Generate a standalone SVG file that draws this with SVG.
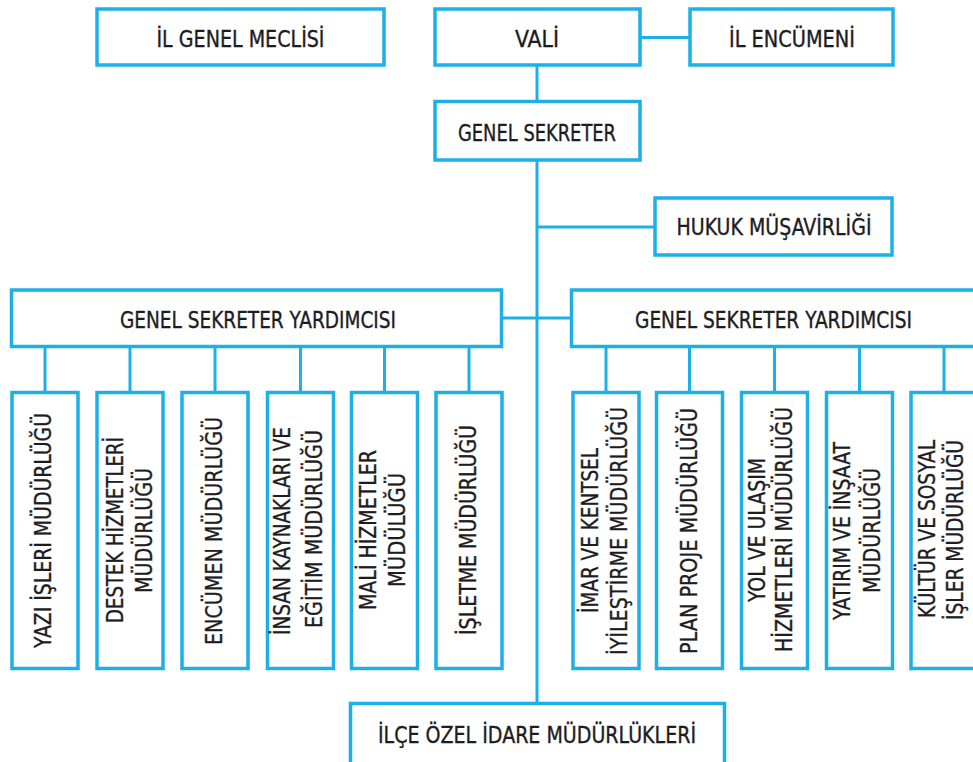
<svg xmlns="http://www.w3.org/2000/svg" width="973" height="762" viewBox="0 0 973 762">
<style>
.box{fill:#fff;stroke:#1cb0e6;stroke-width:3.5}
.ln{fill:none;stroke:#1cb0e6;stroke-width:3}
text{font-family:"DejaVu Sans Condensed","DejaVu Sans","Liberation Sans",sans-serif;font-stretch:condensed;font-size:23px;fill:#1d1d1f;stroke:#1d1d1f;stroke-width:0.35;text-anchor:middle}
</style>
<rect width="973" height="762" fill="#fff"/>
<g id="connectors">
<line class="ln" x1="640" y1="37.5" x2="690" y2="37.5"/>
<line class="ln" x1="537" y1="65" x2="537" y2="101.5"/>
<line class="ln" x1="537" y1="160" x2="537" y2="703.5"/>
<line class="ln" x1="537" y1="227" x2="655" y2="227"/>
<line class="ln" x1="501.5" y1="318" x2="571.5" y2="318"/>
<line class="ln" x1="45" y1="346.5" x2="45" y2="392.5"/>
<line class="ln" x1="130" y1="346.5" x2="130" y2="392.5"/>
<line class="ln" x1="215" y1="346.5" x2="215" y2="392.5"/>
<line class="ln" x1="300.5" y1="346.5" x2="300.5" y2="392.5"/>
<line class="ln" x1="384.5" y1="346.5" x2="384.5" y2="392.5"/>
<line class="ln" x1="469" y1="346.5" x2="469" y2="392.5"/>
<line class="ln" x1="606" y1="346.5" x2="606" y2="392.5"/>
<line class="ln" x1="689.5" y1="346.5" x2="689.5" y2="392.5"/>
<line class="ln" x1="774.5" y1="346.5" x2="774.5" y2="392.5"/>
<line class="ln" x1="859.5" y1="346.5" x2="859.5" y2="392.5"/>
<line class="ln" x1="944" y1="346.5" x2="944" y2="392.5"/>
</g>
<g id="il-genel-meclisi"><rect class="box" x="97" y="9" width="287" height="56"/><text x="240.5" y="46.5" textLength="168" lengthAdjust="spacingAndGlyphs">İL GENEL MECLİSİ</text></g>
<g id="vali"><rect class="box" x="435" y="9" width="205" height="56"/><text x="537" y="46.5" textLength="44" lengthAdjust="spacingAndGlyphs">VALİ</text></g>
<g id="il-encumeni"><rect class="box" x="690" y="9" width="203" height="56"/><text x="792" y="46.5" textLength="126" lengthAdjust="spacingAndGlyphs">İL ENCÜMENİ</text></g>
<g id="genel-sekreter"><rect class="box" x="435" y="101.5" width="205" height="58.5"/><text x="537" y="141" textLength="158" lengthAdjust="spacingAndGlyphs">GENEL SEKRETER</text></g>
<g id="hukuk"><rect class="box" x="655" y="198" width="237" height="57"/><text x="774" y="235" textLength="195" lengthAdjust="spacingAndGlyphs">HUKUK MÜŞAVİRLİĞİ</text></g>
<g id="gsy-left"><rect class="box" x="11.5" y="290" width="490" height="56.5"/><text x="258" y="328" textLength="276" lengthAdjust="spacingAndGlyphs">GENEL SEKRETER YARDIMCISI</text></g>
<g id="gsy-right"><rect class="box" x="571.5" y="290" width="405" height="56.5"/><text x="773.5" y="328" textLength="277" lengthAdjust="spacingAndGlyphs">GENEL SEKRETER YARDIMCISI</text></g>

<g id="yazi-isleri"><rect class="box" x="12" y="392.5" width="66" height="276"/><text transform="translate(51 530.5) rotate(-90)" textLength="235" lengthAdjust="spacingAndGlyphs">YAZI İŞLERİ MÜDÜRLÜĞÜ</text></g>
<g id="destek"><rect class="box" x="97" y="392.5" width="66" height="276"/><text transform="translate(123 530) rotate(-90)" textLength="186" lengthAdjust="spacingAndGlyphs">DESTEK HİZMETLERİ</text><text transform="translate(152 530.5) rotate(-90)" textLength="125" lengthAdjust="spacingAndGlyphs">MÜDÜRLÜĞÜ</text></g>
<g id="encumen"><rect class="box" x="182" y="392.5" width="66" height="276"/><text transform="translate(222 531) rotate(-90)" textLength="228" lengthAdjust="spacingAndGlyphs">ENCÜMEN MÜDÜRLÜĞÜ</text></g>
<g id="insan-kaynaklari"><rect class="box" x="267.5" y="392.5" width="66" height="276"/><text transform="translate(290 531) rotate(-90)" textLength="208" lengthAdjust="spacingAndGlyphs">İNSAN KAYNAKLARI VE</text><text transform="translate(322 529) rotate(-90)" textLength="198" lengthAdjust="spacingAndGlyphs">EĞİTİM MÜDÜRLÜĞÜ</text></g>
<g id="mali-hizmetler"><rect class="box" x="351.5" y="392.5" width="66" height="276"/><text transform="translate(376 530) rotate(-90)" textLength="160" lengthAdjust="spacingAndGlyphs">MALİ HİZMETLER</text><text transform="translate(405 530) rotate(-90)" textLength="114" lengthAdjust="spacingAndGlyphs">MÜDÜLÜĞÜ</text></g>
<g id="isletme"><rect class="box" x="436" y="392.5" width="66" height="276"/><text transform="translate(476 530) rotate(-90)" textLength="210" lengthAdjust="spacingAndGlyphs">İŞLETME MÜDÜRLÜĞÜ</text></g>

<g id="imar"><rect class="box" x="573" y="392.5" width="66" height="276"/><text transform="translate(598 530.5) rotate(-90)" textLength="165" lengthAdjust="spacingAndGlyphs">İMAR VE KENTSEL</text><text transform="translate(627 531) rotate(-90)" textLength="248" lengthAdjust="spacingAndGlyphs">İYİLEŞTİRME MÜDÜRLÜĞÜ</text></g>
<g id="plan-proje"><rect class="box" x="656.5" y="392.5" width="66" height="276"/><text transform="translate(697 531) rotate(-90)" textLength="246" lengthAdjust="spacingAndGlyphs">PLAN PROJE MÜDÜRLÜĞÜ</text></g>
<g id="yol-ulasim"><rect class="box" x="741.5" y="392.5" width="66" height="276"/><text transform="translate(765 530) rotate(-90)" textLength="144" lengthAdjust="spacingAndGlyphs">YOL VE ULAŞIM</text><text transform="translate(792 529.5) rotate(-90)" textLength="245" lengthAdjust="spacingAndGlyphs">HİZMETLERİ MÜDÜRLÜĞÜ</text></g>
<g id="yatirim"><rect class="box" x="826.5" y="392.5" width="66" height="276"/><text transform="translate(850 531) rotate(-90)" textLength="178" lengthAdjust="spacingAndGlyphs">YATIRIM VE İNŞAAT</text><text transform="translate(880 530.5) rotate(-90)" textLength="125" lengthAdjust="spacingAndGlyphs">MÜDÜRLÜĞÜ</text></g>
<g id="kultur"><rect class="box" x="911" y="392.5" width="66" height="276"/><text transform="translate(935 529) rotate(-90)" textLength="178" lengthAdjust="spacingAndGlyphs">KÜLTÜR VE SOSYAL</text><text transform="translate(963 530) rotate(-90)" textLength="180" lengthAdjust="spacingAndGlyphs">İŞLER MÜDÜRLÜĞÜ</text></g>

<g id="ilce-ozel-idare"><rect class="box" x="350.5" y="703.5" width="374" height="80"/><text x="537" y="743" textLength="318" lengthAdjust="spacingAndGlyphs">İLÇE ÖZEL İDARE MÜDÜRLÜKLERİ</text></g>
</svg>
